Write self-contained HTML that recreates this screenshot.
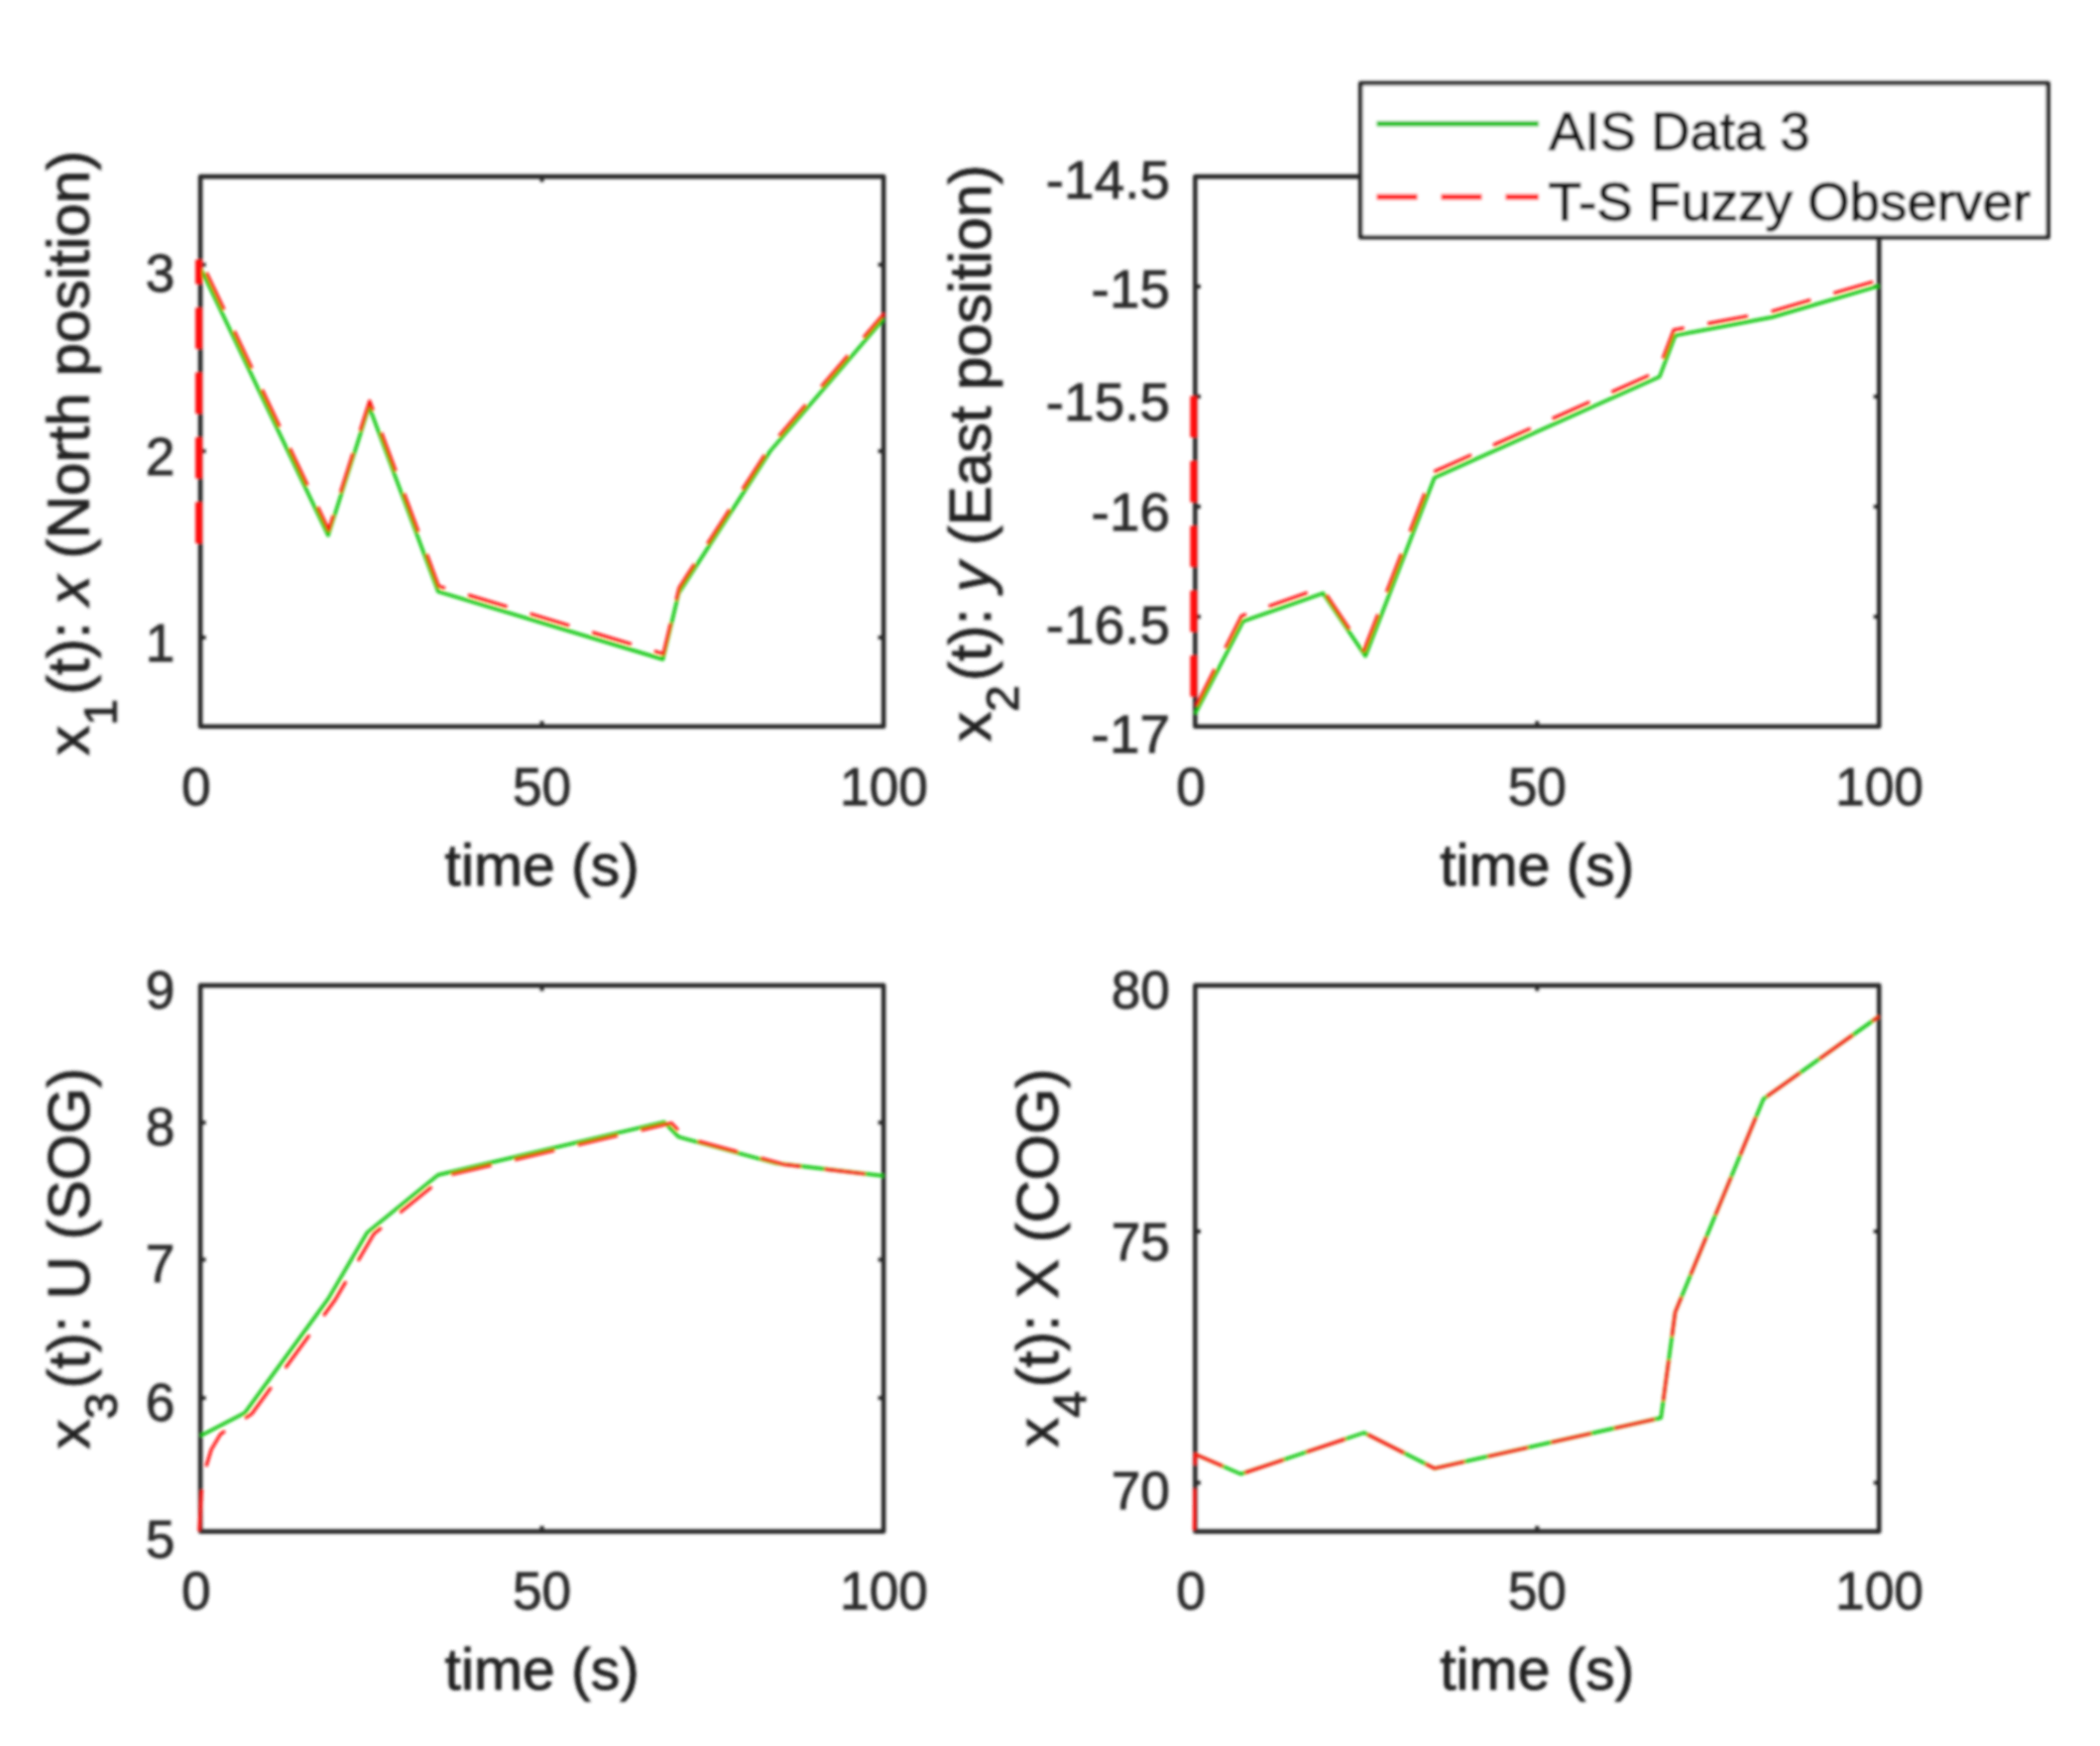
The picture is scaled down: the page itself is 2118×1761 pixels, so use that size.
<!DOCTYPE html>
<html><head><meta charset="utf-8"><title>figure</title>
<style>
html,body{margin:0;padding:0;background:#fff;}
body{width:2118px;height:1761px;overflow:hidden;}
svg{display:block;font-family:"Liberation Sans", Arial, Helvetica, sans-serif;}
text{fill:#2b2b2b;stroke:#2b2b2b;stroke-width:0.8px;}
text.lg{fill:#161616;stroke:#161616;stroke-width:1.3px;}
text.lb{fill:#242424;stroke:#242424;stroke-width:1.0px;}
</style></head><body>
<svg width="2118" height="1761" viewBox="0 0 2118 1761">
<defs><filter id="b" x="0" y="0" width="2118" height="1761" filterUnits="userSpaceOnUse"><feGaussianBlur stdDeviation="1.6"/></filter></defs>
<rect width="2118" height="1761" fill="#fff"/>
<g filter="url(#b)">
<rect x="202.1" y="178.1" width="689.1" height="554.7" fill="none" stroke="#282828" stroke-width="4.6" stroke-linejoin="round"/>
<path d="M546.6 732.8v-5.5M546.6 178.1v5.5M202.1 267.0h5.5M891.2 267.0h-5.5M202.1 455.0h5.5M891.2 455.0h-5.5M202.1 643.0h5.5M891.2 643.0h-5.5" stroke="#282828" stroke-width="4.0" fill="none"/>
<rect x="1205.4" y="178.1" width="689.8" height="554.7" fill="none" stroke="#282828" stroke-width="4.6" stroke-linejoin="round"/>
<path d="M1550.3 732.8v-5.5M1550.3 178.1v5.5M1205.4 289.0h5.5M1895.2 289.0h-5.5M1205.4 400.0h5.5M1895.2 400.0h-5.5M1205.4 510.9h5.5M1895.2 510.9h-5.5M1205.4 621.9h5.5M1895.2 621.9h-5.5" stroke="#282828" stroke-width="4.0" fill="none"/>
<rect x="202.1" y="993.9" width="689.1" height="550.7" fill="none" stroke="#282828" stroke-width="4.6" stroke-linejoin="round"/>
<path d="M546.6 1544.6v-5.5M546.6 993.9v5.5M202.1 1132.3h5.5M891.2 1132.3h-5.5M202.1 1270.6h5.5M891.2 1270.6h-5.5M202.1 1410.0h5.5M891.2 1410.0h-5.5" stroke="#282828" stroke-width="4.0" fill="none"/>
<rect x="1205.4" y="993.9" width="689.8" height="550.7" fill="none" stroke="#282828" stroke-width="4.6" stroke-linejoin="round"/>
<path d="M1550.3 1544.6v-5.5M1550.3 993.9v5.5M1205.4 1242.0h5.5M1895.2 1242.0h-5.5M1205.4 1495.4h5.5M1895.2 1495.4h-5.5" stroke="#282828" stroke-width="4.0" fill="none"/>
<polyline points="202.1,270.0 331.0,540.0 372.3,410.0 441.9,596.7 668.6,665.0 684.5,598.3 776.8,455.0 891.2,321.7" fill="none" stroke="#08c808" stroke-width="3.4" stroke-linejoin="round"/>
<polyline points="200.6,548.0 200.6,262.0" fill="none" stroke="#ff1010" stroke-width="7.0" stroke-dasharray="41.4 24" stroke-dashoffset="0" stroke-linejoin="round"/>
<polyline points="203.1,264.0 331.5,534.5 372.8,404.5 442.4,591.2 669.1,659.5 685.0,592.8 777.3,449.5 891.7,316.2" fill="none" stroke="#ff1010" stroke-width="3.2" stroke-dasharray="41.4 24" stroke-dashoffset="-12" stroke-linejoin="round"/>
<polyline points="1205.4,720.0 1253.7,626.7 1334.4,598.3 1377.2,661.7 1446.8,481.7 1673.8,380.0 1689.6,338.3 1786.9,320.0 1895.2,288.3" fill="none" stroke="#08c808" stroke-width="3.4" stroke-linejoin="round"/>
<polyline points="1203.9,399.6 1203.9,712.0" fill="none" stroke="#ff1010" stroke-width="7.0" stroke-dasharray="41.4 24" stroke-dashoffset="0" stroke-linejoin="round"/>
<polyline points="1206.4,712.0 1252.2,621.2 1332.9,592.8 1375.7,656.2 1445.3,476.2 1672.3,374.5 1688.1,332.8 1785.4,314.5 1893.7,282.8" fill="none" stroke="#ff1010" stroke-width="3.2" stroke-dasharray="41.4 24" stroke-dashoffset="0" stroke-linejoin="round"/>
<polyline points="202.1,1448.3 246.9,1425.0 331.0,1310.0 370.2,1243.3 441.9,1185.0 670.0,1131.7 684.5,1146.7 783.0,1173.3 891.2,1186.0" fill="none" stroke="#08c808" stroke-width="3.4" stroke-linejoin="round"/>
<polyline points="200.9,1544.0 203.2,1506.0 207.8,1479.5 213.1,1462.0 222.5,1446.3 253.9,1426.0 338.0,1311.0 377.2,1244.3 448.9,1186.0 677.0,1132.7 691.5,1147.7 790.0,1174.3 891.2,1186.2" fill="none" stroke="#ff1010" stroke-width="3.2" stroke-dasharray="41.4 24" stroke-dashoffset="0" stroke-linejoin="round"/>
<polyline points="1205.4,1466.7 1251.6,1486.7 1375.8,1445.0 1446.8,1481.0 1675.2,1430.0 1689.6,1323.3 1778.6,1108.3 1895.2,1025.0" fill="none" stroke="#08c808" stroke-width="3.4" stroke-linejoin="round"/>
<polyline points="1204.4,1543.0 1205.4,1466.7 1251.6,1486.7 1375.8,1445.0 1446.8,1481.0 1675.2,1430.0 1689.6,1323.3 1778.6,1108.3 1895.2,1025.0" fill="none" stroke="#ff1010" stroke-width="3.2" stroke-dasharray="41.4 24" stroke-dashoffset="0" stroke-linejoin="round"/>
<rect x="1372.2" y="84" width="693.5" height="155.3" fill="#fff" stroke="#282828" stroke-width="4.6" stroke-linejoin="round"/>
<path d="M1388.5 124.8H1552" stroke="#0fc00f" stroke-width="5.6"/>
<path d="M1388.5 198.6H1552" stroke="#ff1818" stroke-width="5.6" stroke-dasharray="41 24"/>
<text x="197.8" y="811.8" font-size="53.33" text-anchor="middle">0</text>
<text x="546.6" y="811.8" font-size="53.33" text-anchor="middle">50</text>
<text x="891.5" y="811.8" font-size="53.33" text-anchor="middle">100</text>
<text class="lb" transform="translate(546.65 893.1999999999999) scale(1.004 1)" font-size="58.67" text-anchor="middle">time (s)</text>
<text x="197.8" y="1622.8" font-size="53.33" text-anchor="middle">0</text>
<text x="546.6" y="1622.8" font-size="53.33" text-anchor="middle">50</text>
<text x="891.5" y="1622.8" font-size="53.33" text-anchor="middle">100</text>
<text class="lb" transform="translate(546.65 1704.2) scale(1.004 1)" font-size="58.67" text-anchor="middle">time (s)</text>
<text x="1201.1" y="811.8" font-size="53.33" text-anchor="middle">0</text>
<text x="1550.3" y="811.8" font-size="53.33" text-anchor="middle">50</text>
<text x="1895.5" y="811.8" font-size="53.33" text-anchor="middle">100</text>
<text class="lb" transform="translate(1550.3000000000002 893.1999999999999) scale(1.004 1)" font-size="58.67" text-anchor="middle">time (s)</text>
<text x="1201.1" y="1622.8" font-size="53.33" text-anchor="middle">0</text>
<text x="1550.3" y="1622.8" font-size="53.33" text-anchor="middle">50</text>
<text x="1895.5" y="1622.8" font-size="53.33" text-anchor="middle">100</text>
<text class="lb" transform="translate(1550.3000000000002 1704.2) scale(1.004 1)" font-size="58.67" text-anchor="middle">time (s)</text>
<text x="176.5" y="293.5" font-size="53.33" text-anchor="end">3</text>
<text x="176.5" y="478.5" font-size="53.33" text-anchor="end">2</text>
<text x="176.5" y="666.5" font-size="53.33" text-anchor="end">1</text>
<text transform="translate(1180 200) scale(1.03 1)" font-size="53.33" text-anchor="end">-14.5</text>
<text transform="translate(1180 310.3) scale(1.03 1)" font-size="53.33" text-anchor="end">-15</text>
<text transform="translate(1180 424) scale(1.03 1)" font-size="53.33" text-anchor="end">-15.5</text>
<text transform="translate(1180 534.5) scale(1.03 1)" font-size="53.33" text-anchor="end">-16</text>
<text transform="translate(1180 648.5) scale(1.03 1)" font-size="53.33" text-anchor="end">-16.5</text>
<text transform="translate(1180 758.5) scale(1.03 1)" font-size="53.33" text-anchor="end">-17</text>
<text x="176.5" y="1016.5" font-size="53.33" text-anchor="end">9</text>
<text x="176.5" y="1155.0" font-size="53.33" text-anchor="end">8</text>
<text x="176.5" y="1293.0" font-size="53.33" text-anchor="end">7</text>
<text x="176.5" y="1432.5" font-size="53.33" text-anchor="end">6</text>
<text x="176.5" y="1571.0" font-size="53.33" text-anchor="end">5</text>
<text x="1180.0" y="1016.5" font-size="53.33" text-anchor="end">80</text>
<text x="1180.0" y="1270.5" font-size="53.33" text-anchor="end">75</text>
<text x="1180.0" y="1522.0" font-size="53.33" text-anchor="end">70</text>
<text class="lb" transform="translate(89.5 456.8) rotate(-90) scale(1.0274 1)" font-size="58.67" text-anchor="middle">x<tspan dy="28" font-size="47">1</tspan><tspan dy="-28" dx="4">(t): <tspan font-style="italic">x</tspan> (North position)</tspan></text>
<text class="lb" transform="translate(999 457) rotate(-90) scale(1.025 1)" font-size="58.67" text-anchor="middle">x<tspan dy="28" font-size="47">2</tspan><tspan dy="-28" dx="4">(t): <tspan font-style="italic">y</tspan> (East position)</tspan></text>
<text class="lb" transform="translate(90 1269.2) rotate(-90) scale(1.0237 1)" font-size="58.67" text-anchor="middle">x<tspan dy="28" font-size="47">3</tspan><tspan dy="-28" dx="4">(t): U (SOG)</tspan></text>
<text class="lb" transform="translate(1067 1268.7) rotate(-90) scale(1.017 1)" font-size="58.67" text-anchor="middle">x<tspan dy="28" font-size="47">4</tspan><tspan dy="-28" dx="4">(t): X (COG)</tspan></text>
<text class="lg" transform="translate(1562.3 151.3) scale(1.021 1)" font-size="53.33" text-anchor="start">AIS Data 3</text>
<text class="lg" transform="translate(1561.5 222.3) scale(1.0266 1)" font-size="53.33" text-anchor="start">T-S Fuzzy Observer</text>
</g>
</svg>
</body></html>
